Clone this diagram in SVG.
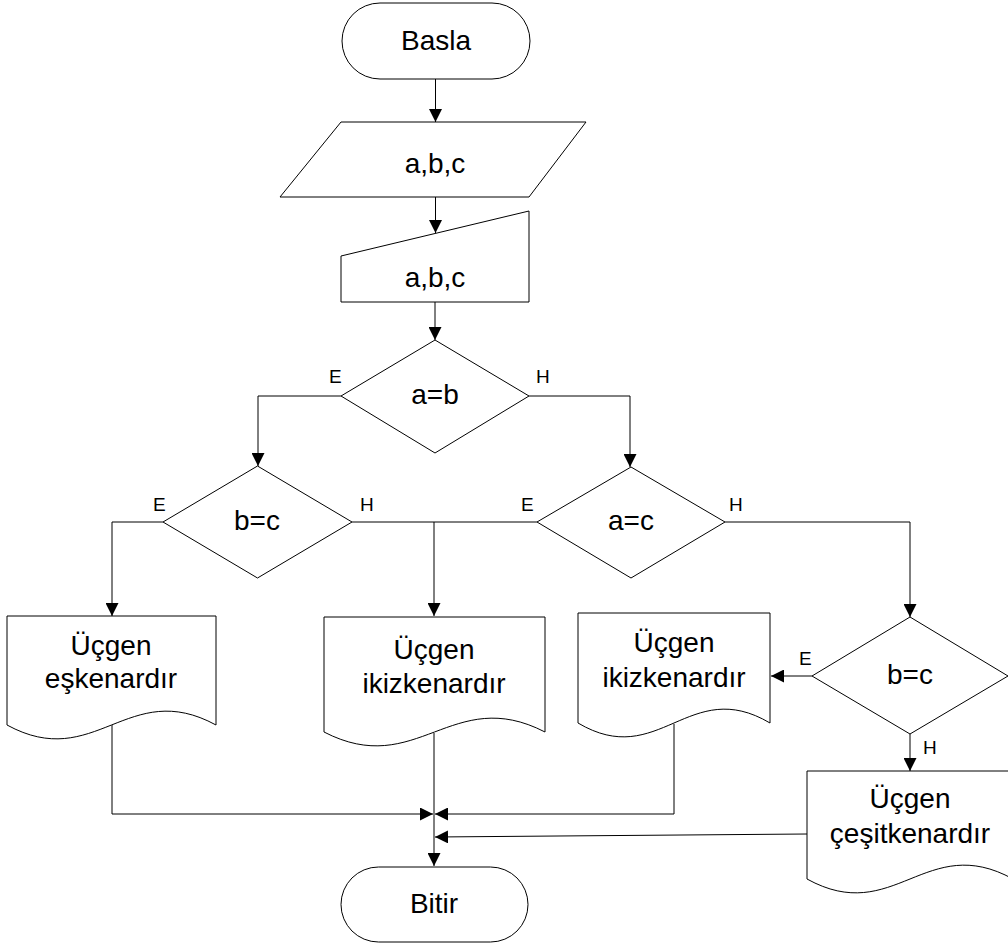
<svg xmlns="http://www.w3.org/2000/svg" width="1008" height="944" viewBox="0 0 1008 944">
<style>
.s{fill:#fff;stroke:#000;stroke-width:1}
.t{font-family:"Liberation Sans",Arial,sans-serif;font-size:28px;fill:#000;text-anchor:middle}
.l{font-family:"Liberation Sans",Arial,sans-serif;font-size:19px;fill:#000}
.c{fill:none;stroke:#000;stroke-width:1}
</style>
<defs>
<marker id="a" markerUnits="userSpaceOnUse" markerWidth="13" markerHeight="13" refX="13" refY="6.5" orient="auto">
<path d="M0,0 L13,6.5 L0,13 z" fill="#000"/>
</marker>
</defs>
<rect width="1008" height="944" fill="#fff"/>
<g id="connectors">
<path class="c" d="M435.5,79 V122" marker-end="url(#a)"/>
<path class="c" d="M435.5,197 V233" marker-end="url(#a)"/>
<path class="c" d="M435,302 V340" marker-end="url(#a)"/>
<path class="c" d="M341,396 H258 V466" marker-end="url(#a)"/>
<path class="c" d="M529,396 H630 V467" marker-end="url(#a)"/>
<path class="c" d="M163,522 H112 V616" marker-end="url(#a)"/>
<path class="c" d="M352,522 H434 V616" marker-end="url(#a)"/>
<path class="c" d="M537,522 H434"/>
<path class="c" d="M725,522 H910 V617" marker-end="url(#a)"/>
<path class="c" d="M812,676 H771" marker-end="url(#a)"/>
<path class="c" d="M910,734 V771" marker-end="url(#a)"/>
<path class="c" d="M112,724 V814 H433" marker-end="url(#a)"/>
<path class="c" d="M434,733 V866" marker-end="url(#a)"/>
<path class="c" d="M674,724 V814 H435" marker-end="url(#a)"/>
<path class="c" d="M807,834 L435,837" marker-end="url(#a)"/>
</g>
<g id="basla">
<rect class="s" x="342" y="3" width="188" height="76" rx="38" ry="38"/>
<text class="t" x="436" y="50">Basla</text>
</g>
<g id="input">
<polygon class="s" points="341,122 586,122 529,197 280,197"/>
<text class="t" x="435" y="173">a,b,c</text>
</g>
<g id="manual">
<polygon class="s" points="341,256 529,211 529,302 341,302"/>
<text class="t" x="435" y="287">a,b,c</text>
</g>
<g id="dec-ab">
<polygon class="s" points="435,340 529,396 435,453 341,396"/>
<text class="t" x="435" y="404">a=b</text>
<text class="l" x="329" y="383">E</text>
<text class="l" x="536" y="383">H</text>
</g>
<g id="dec-bc1">
<polygon class="s" points="257.5,466 352,522 257.5,578 163,522"/>
<text class="t" x="257" y="530">b=c</text>
<text class="l" x="153" y="511">E</text>
<text class="l" x="360" y="511">H</text>
</g>
<g id="dec-ac">
<polygon class="s" points="631,467 725,522 631,578 537,522"/>
<text class="t" x="631" y="530">a=c</text>
<text class="l" x="521" y="511">E</text>
<text class="l" x="729" y="511">H</text>
</g>
<g id="dec-bc2">
<polygon class="s" points="910,617 1008,676 910,734 812,676"/>
<text class="t" x="910" y="684">b=c</text>
<text class="l" x="799" y="665">E</text>
<text class="l" x="923" y="754">H</text>
</g>
<g id="doc-eskenar">
<path class="s" d="M7,616 H216 V725 C128,677 95,773 7,725 Z"/>
<text class="t" x="111" y="655">Üçgen</text>
<text class="t" x="111" y="688">eşkenardır</text>
</g>
<g id="doc-ikiz1">
<path class="s" d="M324,617 H545 V732 C452,684 417,780 324,732 Z"/>
<text class="t" x="434" y="659">Üçgen</text>
<text class="t" x="434" y="693">ikizkenardır</text>
</g>
<g id="doc-ikiz2">
<path class="s" d="M578,613 H770 V723 C689,675 659,771 578,723 Z"/>
<text class="t" x="674" y="652">Üçgen</text>
<text class="t" x="674" y="687">ikizkenardır</text>
</g>
<g id="doc-cesit">
<path class="s" d="M807,771 H1013 V879 C926,831 894,927 807,879 Z"/>
<text class="t" x="910" y="808">Üçgen</text>
<text class="t" x="910" y="843">çeşitkenardır</text>
</g>
<g id="bitir">
<rect class="s" x="341" y="867" width="187" height="75" rx="37.5" ry="37.5"/>
<text class="t" x="434" y="913">Bitir</text>
</g>
</svg>
